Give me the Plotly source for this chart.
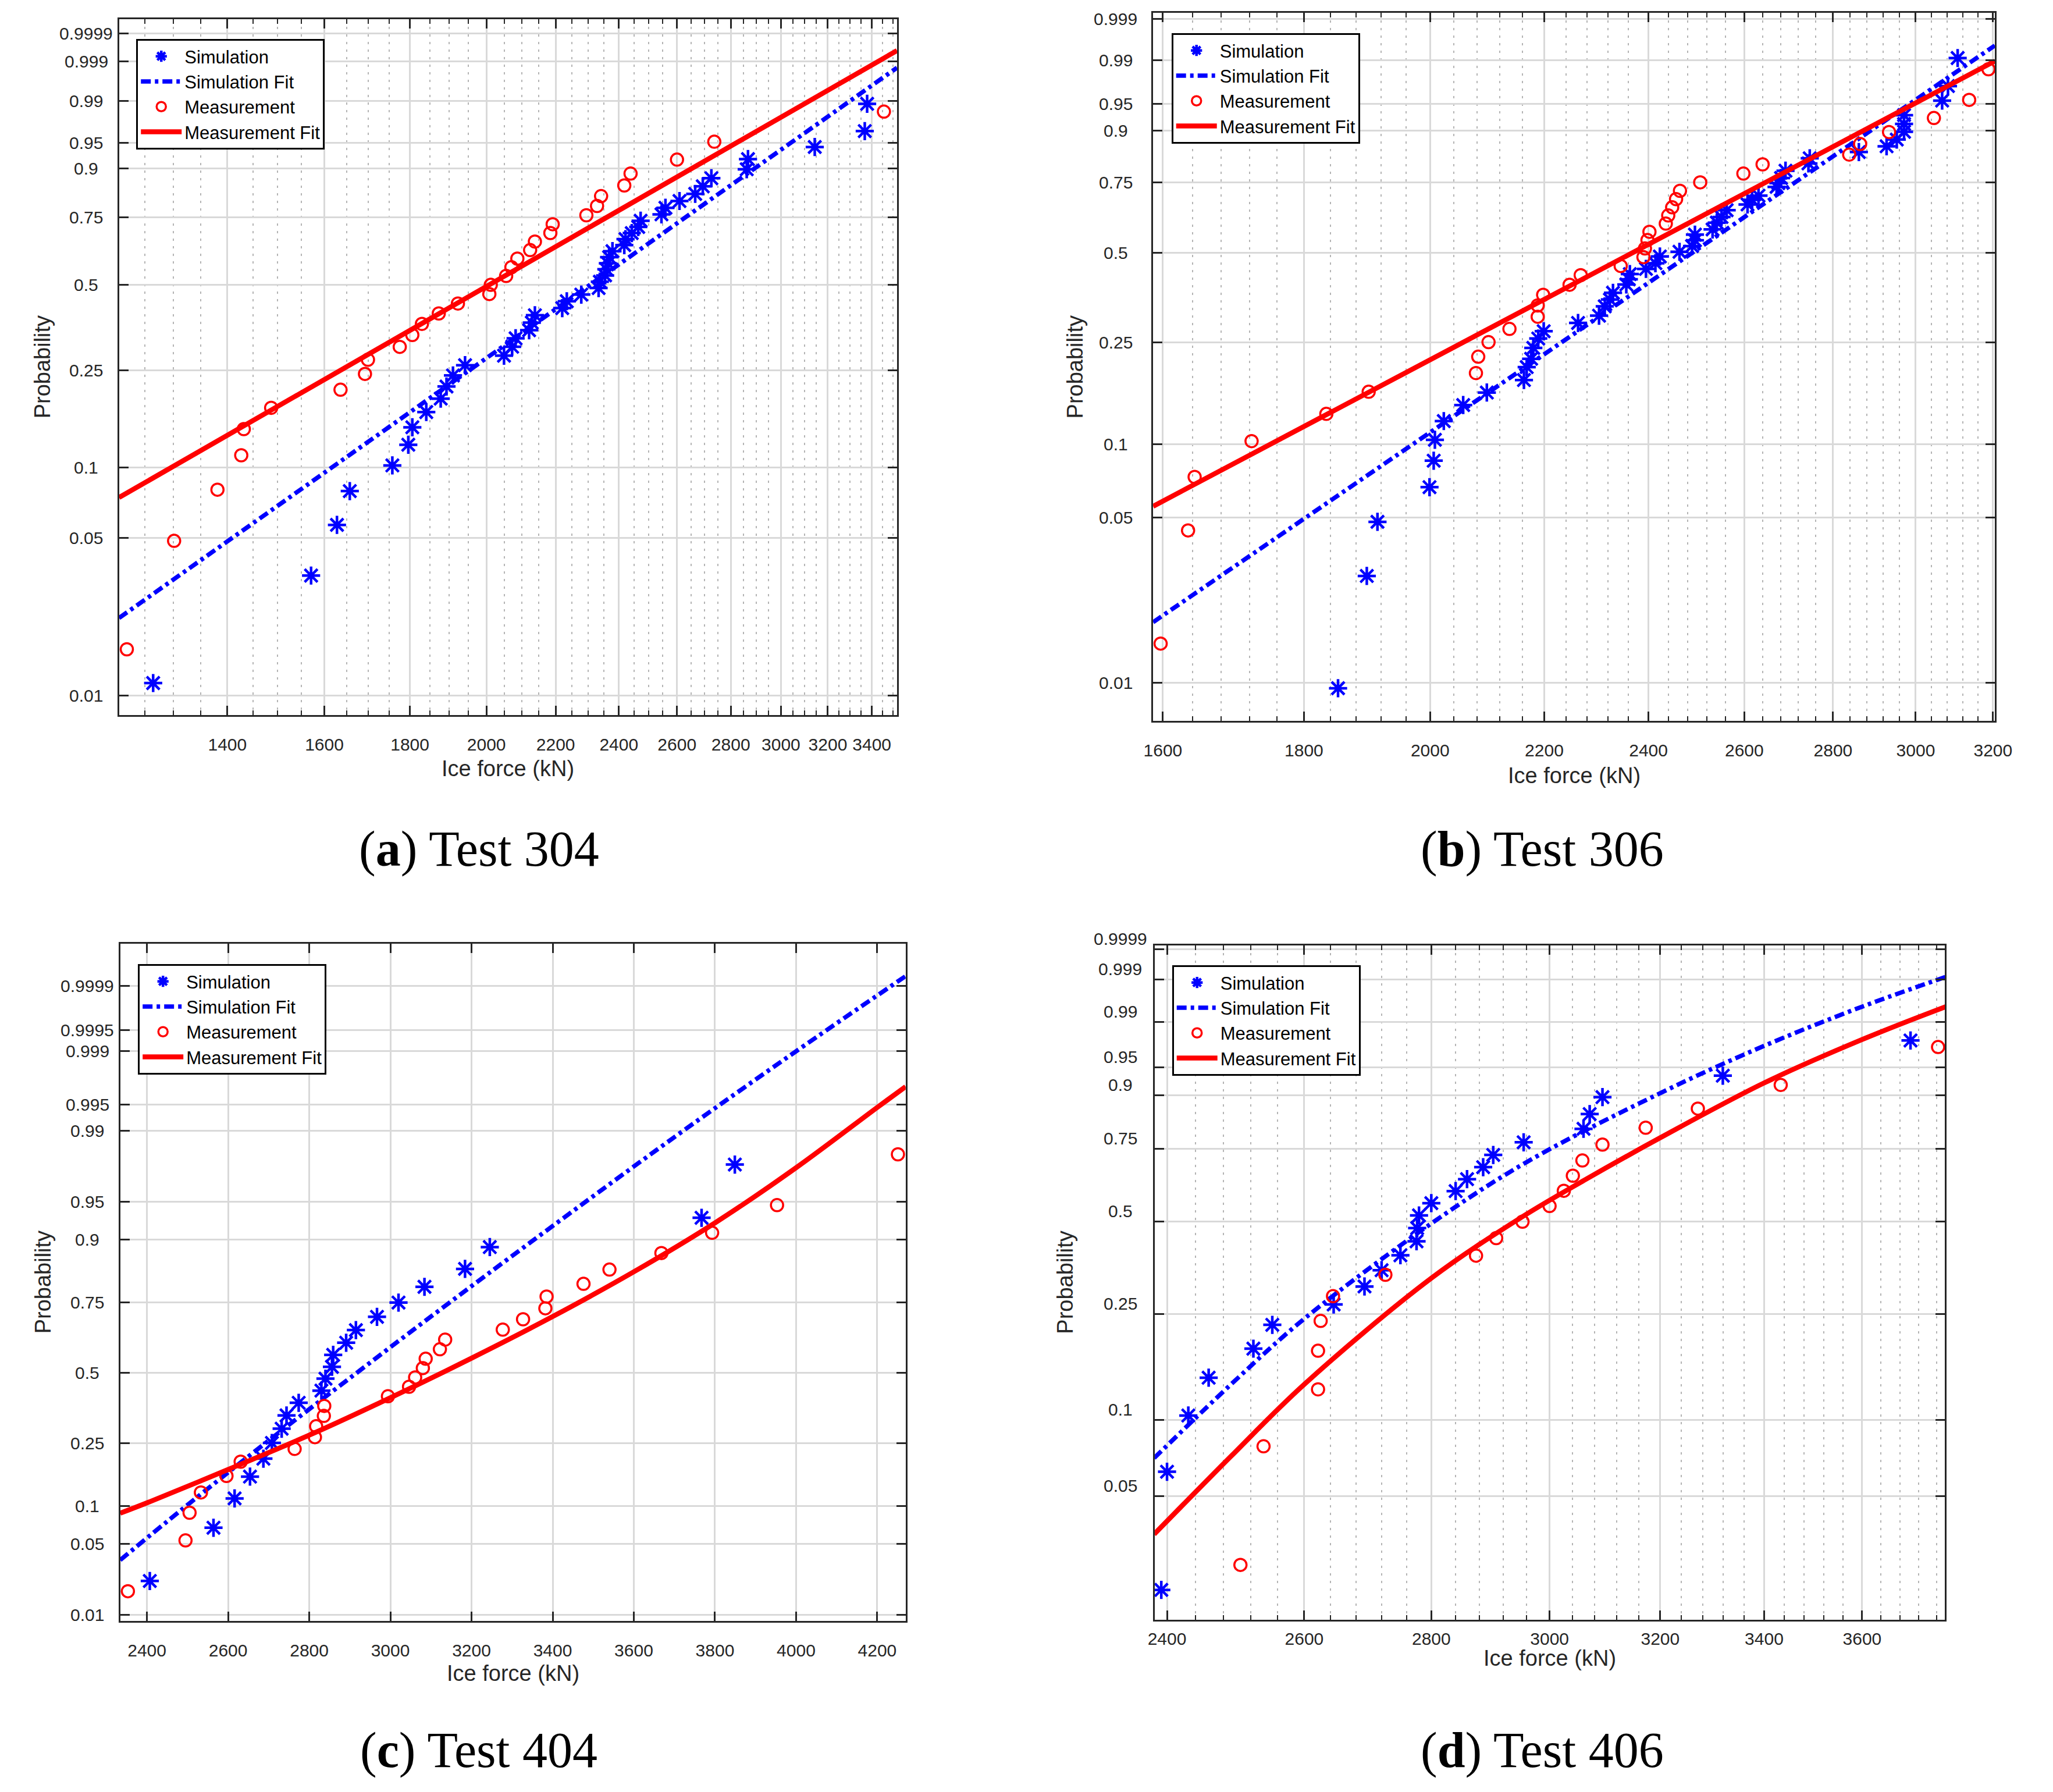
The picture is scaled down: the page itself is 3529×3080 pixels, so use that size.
import math
from statistics import NormalDist
import plotly.graph_objects as go

# ---------------- data (force in kN, cumulative probability) ----------------
# (a) Test 304
a_sim_force = [1264, 1571, 1628, 1657, 1757, 1796, 1806, 1841, 1878, 1893, 1910, 1942, 2049, 2072, 2082,
               2121, 2129, 2138, 2220, 2234, 2279, 2334, 2338, 2355, 2359, 2364, 2368, 2379, 2418, 2422,
               2443, 2465, 2473, 2545, 2559, 2609, 2666, 2694, 2726, 2862, 2867, 3143, 3367, 3378]
a_sim_prob = [0.0114, 0.0341, 0.0568, 0.0795, 0.1023, 0.125, 0.1477, 0.1705, 0.1932, 0.2159, 0.2386,
              0.2614, 0.2841, 0.3068, 0.3295, 0.3523, 0.375, 0.3977, 0.4205, 0.4432, 0.4659, 0.4886,
              0.5114, 0.5341, 0.5568, 0.5795, 0.6023, 0.625, 0.6477, 0.6705, 0.6932, 0.7159, 0.7386,
              0.7614, 0.7841, 0.8068, 0.8295, 0.8523, 0.875, 0.8977, 0.9205, 0.9432, 0.9659, 0.9886]
a_meas_force = [1219, 1301, 1381, 1427, 1432, 1487, 1636, 1692, 1699, 1775, 1806, 1830, 1873, 1923, 2008,
                2012, 2055, 2070, 2087, 2124, 2138, 2184, 2191, 2295, 2329, 2342, 2418, 2439, 2600, 2737, 3457]
a_meas_prob = [0.0161, 0.0484, 0.0806, 0.1129, 0.1452, 0.1774, 0.2097, 0.2419, 0.2742, 0.3065, 0.3387,
               0.371, 0.4032, 0.4355, 0.4677, 0.5, 0.5323, 0.5645, 0.5968, 0.629, 0.6613, 0.6935, 0.7258,
               0.7581, 0.7903, 0.8226, 0.8548, 0.8871, 0.9194, 0.9516, 0.9839]
a_sim_fit_force = [1206, 3520]
a_sim_fit_prob = [0.02216, 0.998485]
a_meas_fit_force = [1206, 3520]
a_meas_fit_prob = [0.0746, 0.999567]

# (b) Test 306
b_sim_force = [1852, 1897, 1914, 1999, 2006, 2008, 2023, 2056, 2097, 2163, 2168, 2176, 2180, 2189, 2199,
               2263, 2303, 2314, 2324, 2330, 2356, 2361, 2363, 2395, 2414, 2423, 2463, 2489, 2495, 2495,
               2532, 2541, 2551, 2562, 2607, 2617, 2631, 2671, 2675, 2681, 2691, 2743, 2746, 2861, 2928,
               2953, 2971, 2971, 2971, 3067, 3082, 3107]
b_sim_prob = [0.0095, 0.0284, 0.0479, 0.0667, 0.0857, 0.1042, 0.1239, 0.1435, 0.1607, 0.1797, 0.2015,
              0.2167, 0.2380, 0.2578, 0.2740, 0.2935, 0.3115, 0.3358, 0.3543, 0.3734, 0.3979, 0.4137,
              0.4299, 0.4464, 0.4650, 0.4875, 0.5034, 0.5231, 0.5431, 0.5634, 0.5819, 0.6063, 0.6269,
              0.6514, 0.6720, 0.6888, 0.7036, 0.7345, 0.7471, 0.7647, 0.7886, 0.8117, 0.8274, 0.8456,
              0.8614, 0.8790, 0.8977, 0.9147, 0.9318, 0.9549, 0.9720, 0.9910]
b_meas_force = [1597, 1634, 1643, 1723, 1834, 1900, 2078, 2082, 2100, 2137, 2188, 2188, 2198, 2247, 2268,
                2345, 2390, 2393, 2398, 2402, 2435, 2440, 2448, 2456, 2464, 2506, 2598, 2640, 2838, 2864,
                2934, 3046, 3137, 3188]
b_meas_prob = [0.0147, 0.0441, 0.0735, 0.1029, 0.1324, 0.1618, 0.1912, 0.2206, 0.25, 0.2794, 0.3088,
               0.3382, 0.3676, 0.3971, 0.4265, 0.4559, 0.4853, 0.5147, 0.5441, 0.5735, 0.6029, 0.6324,
               0.6618, 0.6912, 0.7206, 0.75, 0.7794, 0.8088, 0.8382, 0.8676, 0.8971, 0.9265, 0.9559, 0.9853]
b_sim_fit_force = [1587, 3205]
b_sim_fit_prob = [0.01812, 0.99515]
b_meas_fit_force = [1587, 3205]
b_meas_fit_prob = [0.0556, 0.98965]

# (c) Test 404
c_sim_force = [2407, 2564, 2616, 2654, 2687, 2708, 2732, 2744, 2774, 2830, 2840, 2856, 2859, 2891, 2915,
               2967, 3020, 3084, 3184, 3245, 3767, 3849]
c_sim_prob = [0.0227, 0.0682, 0.1136, 0.1591, 0.2045, 0.25, 0.2955, 0.3409, 0.3864, 0.4318, 0.4773,
              0.5227, 0.5682, 0.6136, 0.6591, 0.7045, 0.75, 0.7955, 0.8409, 0.8864, 0.9318, 0.9773]
c_meas_force = [2353, 2495, 2505, 2533, 2596, 2631, 2764, 2814, 2817, 2836, 2837, 2994, 3046, 3061, 3080,
                3087, 3122, 3135, 3277, 3327, 3382, 3385, 3476, 3540, 3668, 3793, 3953, 4251]
c_meas_prob = [0.0179, 0.0536, 0.0893, 0.125, 0.1607, 0.1964, 0.2321, 0.2679, 0.3036, 0.3393, 0.375,
               0.4107, 0.4464, 0.4821, 0.5179, 0.5536, 0.5893, 0.625, 0.6607, 0.6964, 0.7321, 0.7679,
               0.8036, 0.8393, 0.875, 0.9107, 0.9464, 0.9821]
c_sim_fit_force = [2334, 2486, 2691, 2922, 3130, 3354, 3696, 3998, 4270]
c_sim_fit_prob = [0.0359, 0.0944, 0.2486, 0.5056, 0.735, 0.8994, 0.98787, 0.998979, 0.999931]
c_meas_fit_force = [2334, 2400, 2600, 2800, 3000, 3200, 3400, 3600, 3800, 4000, 4200, 4270]
c_meas_fit_prob = [0.0885, 0.1056, 0.1762, 0.2743, 0.4052, 0.5557, 0.7054, 0.834, 0.9251, 0.97558,
                   0.99461, 0.99702]

# (d) Test 406
d_sim_force = [2392, 2400, 2430, 2459, 2524, 2552, 2645, 2693, 2720, 2750, 2776, 2777, 2780, 2800, 2840,
               2859, 2886, 2903, 2955, 3060, 3071, 3094, 3319, 3703]
d_sim_prob = [0.0208, 0.0625, 0.1042, 0.1458, 0.1875, 0.2292, 0.2708, 0.3125, 0.3542, 0.3958, 0.4375,
              0.4792, 0.5208, 0.5625, 0.6042, 0.6458, 0.6875, 0.7292, 0.7708, 0.8125, 0.8542, 0.8958,
              0.9375, 0.9792]
d_meas_force = [2505, 2539, 2621, 2621, 2625, 2644, 2726, 2874, 2908, 2953, 3000, 3025, 3041, 3058, 3094,
                3173, 3271, 3433, 3763]
d_meas_prob = [0.0263, 0.0789, 0.1316, 0.1842, 0.2368, 0.2895, 0.3421, 0.3947, 0.4474, 0.5, 0.5526,
               0.6053, 0.6579, 0.7105, 0.7632, 0.8158, 0.8684, 0.9211, 0.9737]
d_sim_fit_force = [2382, 2491, 2600, 2800, 2960, 3200, 3400, 3600, 3780]
d_sim_fit_prob = [0.0708, 0.1373, 0.241, 0.494, 0.7048, 0.9045, 0.97478, 0.9952, 0.99916]
d_meas_fit_force = [2382, 2491, 2600, 2800, 2950, 3062, 3200, 3400, 3600, 3780]
d_meas_fit_prob = [0.035, 0.0719, 0.1375, 0.3333, 0.5131, 0.6428, 0.785, 0.9248, 0.97991, 0.9952]

# tick labels
a_xticks = [1400, 1600, 1800, 2000, 2200, 2400, 2600, 2800, 3000, 3200, 3400]
b_xticks = [1600, 1800, 2000, 2200, 2400, 2600, 2800, 3000, 3200]
c_xticks = [2400, 2600, 2800, 3000, 3200, 3400, 3600, 3800, 4000, 4200]
d_xticks = [2400, 2600, 2800, 3000, 3200, 3400, 3600]
a_yticks = ['0.01', '0.05', '0.1', '0.25', '0.5', '0.75', '0.9', '0.95', '0.99', '0.999', '0.9999']
b_yticks = ['0.01', '0.05', '0.1', '0.25', '0.5', '0.75', '0.9', '0.95', '0.99', '0.999']
c_yticks = ['0.01', '0.05', '0.1', '0.25', '0.5', '0.75', '0.9', '0.95', '0.99', '0.995', '0.999',
            '0.9995', '0.9999']
d_yticks = ['0.05', '0.1', '0.25', '0.5', '0.75', '0.9', '0.95', '0.99', '0.999', '0.9999']
captions = ['(<b>a</b>) Test 304', '(<b>b</b>) Test 306', '(<b>c</b>) Test 404', '(<b>d</b>) Test 406']

# ---------------- styling ----------------
W, H = 3529, 3080
OFF = 8  # default body margin of the html page
SANS = 'Liberation Sans Narrow, Liberation Sans, Arial, sans-serif'
SERIF = 'Liberation Serif, Times New Roman, serif'
BLUE = '#0000ff'
RED = '#ff0000'
AXIS = '#262626'


def px(x):
    return (x - OFF) / W


def py(y):
    return 1 - (y - OFF) / H


def weib(p):
    return [math.log(-math.log(1 - v)) for v in p]


def norm(p):
    nd = NormalDist()
    return [nd.inv_cdf(v) for v in p]


# pixel boxes of the four plot frames: left, right, top, bottom
panels = [
    dict(box=(191, 1546, 33, 1229), xlog=True, xr=(1206, 3520), yr=(-4.798, 2.370), yf=weib,
         xt=a_xticks, minor=[v for v in range(1250, 3501, 50) if v % 200],
         yt=a_yticks, lab_x=134, lab_shift=0, stand=22, xt_y=1321, yt_x=58, cap=(818, 1459),
         leg=(221, 67), spline=False,
         data=(a_sim_force, a_sim_prob, a_sim_fit_force, a_sim_fit_prob,
               a_meas_force, a_meas_prob, a_meas_fit_force, a_meas_fit_prob)),
    dict(box=(1992, 3458, 22, 1239), xlog=True, xr=(1587, 3205), yr=(-4.973, 1.995), yf=weib,
         xt=b_xticks, minor=[v for v in range(1640, 3200, 40) if v % 200],
         yt=b_yticks, lab_x=1927, lab_shift=0, stand=22, xt_y=1333, yt_x=1856, cap=(2670, 1459),
         leg=(2024, 57), spline=False,
         data=(b_sim_force, b_sim_prob, b_sim_fit_force, b_sim_fit_prob,
               b_meas_force, b_meas_prob, b_meas_fit_force, b_meas_fit_prob)),
    dict(box=(193, 1561, 1622, 2786), xlog=False, xr=(2334, 4270), yr=(-2.385, 4.123), yf=norm,
         xt=c_xticks, minor=None,
         yt=c_yticks, lab_x=136, lab_shift=0, stand=22, xt_y=2876, yt_x=59, cap=(818, 3008),
         leg=(224, 1657), spline=True,
         data=(c_sim_force, c_sim_prob, c_sim_fit_force, c_sim_fit_prob,
               c_meas_force, c_meas_prob, c_meas_fit_force, c_meas_fit_prob)),
    dict(box=(1995, 3371, 1625, 2784), xlog=True, xr=(2383, 3778), yr=(-4.146, 2.256), yf=weib,
         xt=d_xticks, minor=[v for v in range(2440, 3778, 40) if v % 200],
         yt=d_yticks, lab_x=1935, lab_shift=18, stand=4, xt_y=2850, yt_x=1838, cap=(2670, 3008),
         leg=(2025, 1659), spline=True,
         data=(d_sim_force, d_sim_prob, d_sim_fit_force, d_sim_fit_prob,
               d_meas_force, d_meas_prob, d_meas_fit_force, d_meas_fit_prob)),
]

fig = go.Figure()
layout = dict(width=W, height=H, autosize=False, margin=dict(l=0, r=0, t=0, b=0),
              paper_bgcolor='white', plot_bgcolor='white', showlegend=True)
annotations = []

tick_font = dict(family=SANS, size=30, color=AXIS)
title_font = dict(family=SANS, size=38, color=AXIS)

for i, pn in enumerate(panels, start=1):
    sfx = '' if i == 1 else str(i)
    xa, ya, lg = 'x' + sfx, 'y' + sfx, 'legend' + sfx
    l, r, t, b = pn['box']
    yf = pn['yf']
    sim_f, sim_p, sfit_f, sfit_p, meas_f, meas_p, mfit_f, mfit_p = pn['data']
    shape = 'spline' if pn['spline'] else 'linear'

    fig.add_trace(go.Scatter(
        x=sim_f, y=yf(sim_p), mode='markers', name='Simulation', xaxis=xa, yaxis=ya, legend=lg,
        marker=dict(symbol='asterisk-open', size=26, color=BLUE, line=dict(width=4.5, color=BLUE))))
    fig.add_trace(go.Scatter(
        x=sfit_f, y=yf(sfit_p), mode='lines', name='Simulation Fit', xaxis=xa, yaxis=ya, legend=lg,
        line=dict(color=BLUE, width=7.5, dash='17px,7px,6px,7px', shape=shape, smoothing=1.0)))
    fig.add_trace(go.Scatter(
        x=meas_f, y=yf(meas_p), mode='markers', name='Measurement', xaxis=xa, yaxis=ya, legend=lg,
        marker=dict(symbol='circle-open', size=21, color=RED, line=dict(width=3.5, color=RED))))
    fig.add_trace(go.Scatter(
        x=mfit_f, y=yf(mfit_p), mode='lines', name='Measurement Fit', xaxis=xa, yaxis=ya, legend=lg,
        line=dict(color=RED, width=8.5, shape=shape, smoothing=1.0)))

    xr = [math.log10(v) for v in pn['xr']] if pn['xlog'] else list(pn['xr'])
    xaxis = dict(
        domain=[px(l), px(r)], anchor=ya, type='log' if pn['xlog'] else 'linear', range=xr,
        tickmode='array', tickvals=pn['xt'], ticktext=[str(v) for v in pn['xt']],
        tickfont=tick_font, ticklabelstandoff=pn['stand'],
        ticks='inside', ticklen=16, tickwidth=3, tickcolor=AXIS,
        showline=True, linecolor=AXIS, linewidth=3, mirror='ticks',
        showgrid=True, gridcolor='#d9d9d9', gridwidth=2.5, zeroline=False, fixedrange=True)
    if pn['minor']:
        xaxis['minor'] = dict(tickmode='array', tickvals=pn['minor'], ticks='inside', ticklen=8,
                              tickwidth=2, tickcolor=AXIS, showgrid=True, gridcolor='#b4b4b4',
                              gridwidth=2, griddash='4px,9px')
    ytv = yf([float(s) for s in pn['yt']])
    yaxis = dict(
        domain=[py(b), py(t)], anchor=xa, range=list(pn['yr']), tickmode='array', tickvals=ytv,
        showticklabels=False, ticks='inside', ticklen=16, tickwidth=3, tickcolor=AXIS,
        showline=True, linecolor=AXIS, linewidth=3, mirror='ticks',
        showgrid=True, gridcolor='#d9d9d9', gridwidth=2.5, zeroline=False, fixedrange=True)
    layout['xaxis' + sfx] = xaxis
    layout['yaxis' + sfx] = yaxis

    # y tick labels (centred, as in the original)
    for txt, v in zip(pn['yt'], ytv):
        annotations.append(dict(x=px(pn['lab_x']), xref='paper', y=v, yref=ya, text=txt,
                                showarrow=False, xanchor='center', yanchor='middle',
                                yshift=pn['lab_shift'], font=tick_font))
    # axis titles
    annotations.append(dict(x=px((l + r) / 2), y=py(pn['xt_y']), xref='paper', yref='paper',
                            text='Ice force (kN)', showarrow=False, xanchor='center',
                            yanchor='middle', font=title_font))
    annotations.append(dict(x=px(pn['yt_x']), y=py((t + b) / 2), xref='paper', yref='paper',
                            text='Probability', textangle=-90, showarrow=False, xanchor='center',
                            yanchor='middle', font=title_font))
    # caption
    cx, cy = pn['cap']
    annotations.append(dict(x=px(cx), y=py(cy), xref='paper', yref='paper', text=captions[i - 1],
                            showarrow=False, xanchor='center', yanchor='middle',
                            font=dict(family=SERIF, size=86, color='black')))
    lx, ly = pn['leg']
    layout[lg] = dict(x=px(lx), y=py(ly), xanchor='left', yanchor='top', bgcolor='white',
                      bordercolor='black', borderwidth=3, itemwidth=70, tracegroupgap=0,
                      font=dict(family=SANS, size=31, color='black'))

layout['annotations'] = annotations
fig.update_layout(**layout)

fig.write_html("out.html")
